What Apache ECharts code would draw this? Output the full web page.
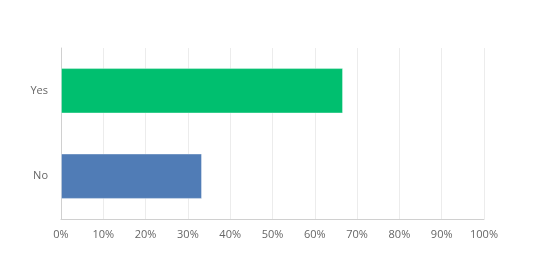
<!DOCTYPE html>
<html>
<head>
<meta charset="utf-8">
<script src="https://cdn.jsdelivr.net/npm/echarts@6/dist/echarts.min.js"></script>
<style>html,body{margin:0;padding:0;background:#fff;}#c{width:543px;height:270px;}</style>
</head>
<body>
<div id="c"></div>
<script>
var categories = ['No', 'Yes'];
var values = [33.33, 66.67];
var colors = ['#507CB6', '#00BF6F'];
var tickLabels = ['0%', '10%', '20%', '30%', '40%', '50%', '60%', '70%', '80%', '90%', '100%'];

var chart = echarts.init(document.getElementById('c'), null, {renderer: 'canvas'});
chart.setOption({
  animation: false,
  grid: {left: 61, right: 59, top: 48, bottom: 51, containLabel: false},
  xAxis: {
    type: 'value', min: 0, max: 100, interval: 10,
    axisLine: {show: true, lineStyle: {color: '#d0d0d0'}},
    axisTick: {show: false},
    splitLine: {show: true, lineStyle: {color: '#ececec'}},
    axisLabel: {
      color: '#666', fontFamily: 'Open Sans', fontSize: 11, margin: 10,
      formatter: function (v) { return tickLabels[Math.round(v / 10)]; }
    }
  },
  yAxis: {
    type: 'category', data: categories,
    axisLine: {show: true, lineStyle: {color: '#d0d0d0'}},
    axisTick: {show: false},
    axisLabel: {color: '#666', fontFamily: 'Open Sans', fontSize: 11, margin: 13}
  },
  series: [{
    type: 'bar',
    data: values.map(function (v, i) { return {value: v, itemStyle: {color: colors[i]}}; }),
    barCategoryGap: '47%',
    itemStyle: {borderColor: 'rgba(255,255,255,0.35)', borderWidth: 1}
  }]
});
</script>
</body>
</html>
